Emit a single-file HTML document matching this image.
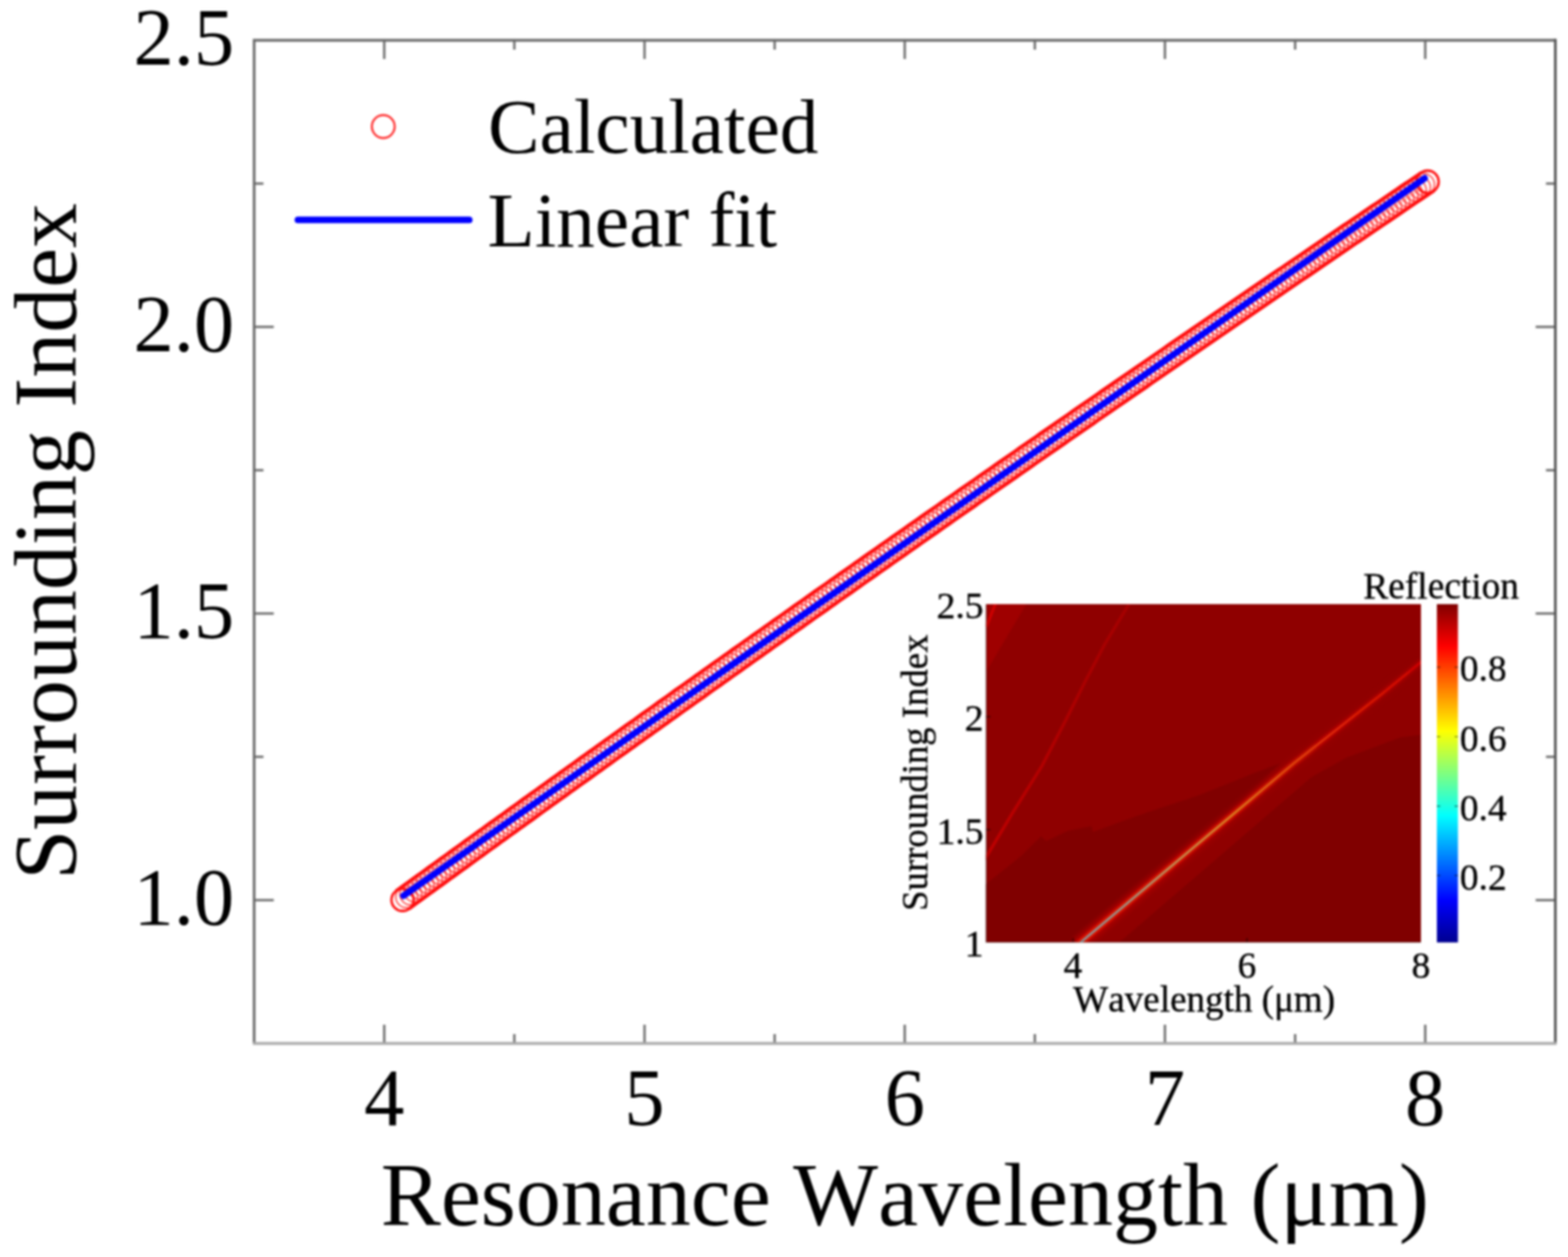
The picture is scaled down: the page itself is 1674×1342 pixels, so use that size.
<!DOCTYPE html><html><head><meta charset="utf-8"><style>html,body{margin:0;padding:0;background:#fff;}svg{display:block;filter:blur(0.9px);}text{font-family:"Liberation Serif","Times New Roman",serif;font-kerning:none;}</style></head><body>
<svg width="1674" height="1342" viewBox="0 0 1674 1342">
<defs>
<linearGradient id="jet" x1="0" y1="1" x2="0" y2="0"><stop offset="0" stop-color="#00008f"/><stop offset="0.125" stop-color="#0000ff"/><stop offset="0.375" stop-color="#00ffff"/><stop offset="0.625" stop-color="#ffff00"/><stop offset="0.875" stop-color="#ff0000"/><stop offset="1" stop-color="#800000"/></linearGradient>
<filter id="b1" x="-20%" y="-20%" width="140%" height="140%"><feGaussianBlur stdDeviation="0.7"/></filter>
<filter id="b2" x="-20%" y="-20%" width="140%" height="140%"><feGaussianBlur stdDeviation="2.2"/></filter>
<filter id="b3" x="-20%" y="-20%" width="140%" height="140%"><feGaussianBlur stdDeviation="1.0"/></filter>
</defs>
<rect x="0" y="0" width="1674" height="1342" fill="#fff"/>
<g fill="none" stroke="#ff2020" stroke-width="1.4" stroke-opacity="0.9"><circle cx="429.80" cy="960.73" r="11.7"/><circle cx="434.18" cy="957.55" r="11.7"/><circle cx="438.55" cy="954.37" r="11.7"/><circle cx="442.93" cy="951.20" r="11.7"/><circle cx="447.31" cy="948.03" r="11.7"/><circle cx="451.69" cy="944.85" r="11.7"/><circle cx="456.06" cy="941.68" r="11.7"/><circle cx="460.44" cy="938.51" r="11.7"/><circle cx="464.82" cy="935.34" r="11.7"/><circle cx="469.19" cy="932.17" r="11.7"/><circle cx="473.57" cy="929.00" r="11.7"/><circle cx="477.95" cy="925.83" r="11.7"/><circle cx="482.33" cy="922.67" r="11.7"/><circle cx="486.70" cy="919.50" r="11.7"/><circle cx="491.08" cy="916.33" r="11.7"/><circle cx="495.46" cy="913.17" r="11.7"/><circle cx="499.84" cy="910.01" r="11.7"/><circle cx="504.21" cy="906.84" r="11.7"/><circle cx="508.59" cy="903.68" r="11.7"/><circle cx="512.97" cy="900.52" r="11.7"/><circle cx="517.34" cy="897.36" r="11.7"/><circle cx="521.72" cy="894.20" r="11.7"/><circle cx="526.10" cy="891.05" r="11.7"/><circle cx="530.48" cy="887.89" r="11.7"/><circle cx="534.85" cy="884.73" r="11.7"/><circle cx="539.23" cy="881.58" r="11.7"/><circle cx="543.61" cy="878.42" r="11.7"/><circle cx="547.98" cy="875.27" r="11.7"/><circle cx="552.36" cy="872.12" r="11.7"/><circle cx="556.74" cy="868.96" r="11.7"/><circle cx="561.12" cy="865.81" r="11.7"/><circle cx="565.49" cy="862.66" r="11.7"/><circle cx="569.87" cy="859.51" r="11.7"/><circle cx="574.25" cy="856.36" r="11.7"/><circle cx="578.62" cy="853.22" r="11.7"/><circle cx="583.00" cy="850.07" r="11.7"/><circle cx="587.38" cy="846.92" r="11.7"/><circle cx="591.76" cy="843.78" r="11.7"/><circle cx="596.13" cy="840.64" r="11.7"/><circle cx="600.51" cy="837.49" r="11.7"/><circle cx="604.89" cy="834.35" r="11.7"/><circle cx="609.27" cy="831.21" r="11.7"/><circle cx="613.64" cy="828.07" r="11.7"/><circle cx="618.02" cy="824.93" r="11.7"/><circle cx="622.40" cy="821.79" r="11.7"/><circle cx="626.77" cy="818.65" r="11.7"/><circle cx="631.15" cy="815.52" r="11.7"/><circle cx="635.53" cy="812.38" r="11.7"/><circle cx="639.91" cy="809.24" r="11.7"/><circle cx="644.28" cy="806.11" r="11.7"/><circle cx="648.66" cy="802.98" r="11.7"/><circle cx="653.04" cy="799.84" r="11.7"/><circle cx="657.41" cy="796.71" r="11.7"/><circle cx="661.79" cy="793.58" r="11.7"/><circle cx="666.17" cy="790.45" r="11.7"/><circle cx="670.55" cy="787.32" r="11.7"/><circle cx="674.92" cy="784.20" r="11.7"/><circle cx="679.30" cy="781.07" r="11.7"/><circle cx="683.68" cy="777.94" r="11.7"/><circle cx="688.05" cy="774.82" r="11.7"/><circle cx="692.43" cy="771.69" r="11.7"/><circle cx="696.81" cy="768.57" r="11.7"/><circle cx="701.19" cy="765.45" r="11.7"/><circle cx="705.56" cy="762.32" r="11.7"/><circle cx="709.94" cy="759.20" r="11.7"/><circle cx="714.32" cy="756.08" r="11.7"/><circle cx="718.70" cy="752.96" r="11.7"/><circle cx="723.07" cy="749.85" r="11.7"/><circle cx="727.45" cy="746.73" r="11.7"/><circle cx="731.83" cy="743.61" r="11.7"/><circle cx="736.20" cy="740.50" r="11.7"/><circle cx="740.58" cy="737.38" r="11.7"/><circle cx="744.96" cy="734.27" r="11.7"/><circle cx="749.34" cy="731.15" r="11.7"/><circle cx="753.71" cy="728.04" r="11.7"/><circle cx="758.09" cy="724.93" r="11.7"/><circle cx="762.47" cy="721.82" r="11.7"/><circle cx="766.84" cy="718.71" r="11.7"/><circle cx="771.22" cy="715.60" r="11.7"/><circle cx="775.60" cy="712.49" r="11.7"/><circle cx="779.98" cy="709.39" r="11.7"/><circle cx="784.35" cy="706.28" r="11.7"/><circle cx="788.73" cy="703.18" r="11.7"/><circle cx="793.11" cy="700.07" r="11.7"/><circle cx="797.48" cy="696.97" r="11.7"/><circle cx="801.86" cy="693.87" r="11.7"/><circle cx="806.24" cy="690.76" r="11.7"/><circle cx="810.62" cy="687.66" r="11.7"/><circle cx="814.99" cy="684.56" r="11.7"/><circle cx="819.37" cy="681.46" r="11.7"/><circle cx="823.75" cy="678.37" r="11.7"/><circle cx="828.13" cy="675.27" r="11.7"/><circle cx="832.50" cy="672.17" r="11.7"/><circle cx="836.88" cy="669.08" r="11.7"/><circle cx="841.26" cy="665.98" r="11.7"/><circle cx="845.63" cy="662.89" r="11.7"/><circle cx="850.01" cy="659.80" r="11.7"/><circle cx="854.39" cy="656.71" r="11.7"/><circle cx="858.77" cy="653.61" r="11.7"/><circle cx="863.14" cy="650.52" r="11.7"/><circle cx="867.52" cy="647.44" r="11.7"/><circle cx="871.90" cy="644.35" r="11.7"/><circle cx="876.27" cy="641.26" r="11.7"/><circle cx="880.65" cy="638.17" r="11.7"/><circle cx="885.03" cy="635.09" r="11.7"/><circle cx="889.41" cy="632.00" r="11.7"/><circle cx="893.78" cy="628.92" r="11.7"/><circle cx="898.16" cy="625.84" r="11.7"/><circle cx="902.54" cy="622.75" r="11.7"/><circle cx="906.91" cy="619.67" r="11.7"/><circle cx="911.29" cy="616.59" r="11.7"/><circle cx="915.67" cy="613.51" r="11.7"/><circle cx="920.05" cy="610.43" r="11.7"/><circle cx="924.42" cy="607.36" r="11.7"/><circle cx="928.80" cy="604.28" r="11.7"/><circle cx="933.18" cy="601.20" r="11.7"/><circle cx="937.56" cy="598.13" r="11.7"/><circle cx="941.93" cy="595.05" r="11.7"/><circle cx="946.31" cy="591.98" r="11.7"/><circle cx="950.69" cy="588.91" r="11.7"/><circle cx="955.06" cy="585.84" r="11.7"/><circle cx="959.44" cy="582.77" r="11.7"/><circle cx="963.82" cy="579.70" r="11.7"/><circle cx="968.20" cy="576.63" r="11.7"/><circle cx="972.57" cy="573.56" r="11.7"/><circle cx="976.95" cy="570.49" r="11.7"/><circle cx="981.33" cy="567.43" r="11.7"/><circle cx="985.70" cy="564.36" r="11.7"/><circle cx="990.08" cy="561.30" r="11.7"/><circle cx="994.46" cy="558.23" r="11.7"/><circle cx="998.84" cy="555.17" r="11.7"/><circle cx="1003.21" cy="552.11" r="11.7"/><circle cx="1007.59" cy="549.05" r="11.7"/><circle cx="1011.97" cy="545.99" r="11.7"/><circle cx="1016.34" cy="542.93" r="11.7"/><circle cx="1020.72" cy="539.87" r="11.7"/><circle cx="1025.10" cy="536.81" r="11.7"/><circle cx="1029.48" cy="533.76" r="11.7"/><circle cx="1033.85" cy="530.70" r="11.7"/><circle cx="1038.23" cy="527.65" r="11.7"/><circle cx="1042.61" cy="524.59" r="11.7"/><circle cx="1046.99" cy="521.54" r="11.7"/><circle cx="1051.36" cy="518.49" r="11.7"/><circle cx="1055.74" cy="515.43" r="11.7"/><circle cx="1060.12" cy="512.38" r="11.7"/><circle cx="1064.49" cy="509.34" r="11.7"/><circle cx="1068.87" cy="506.29" r="11.7"/><circle cx="1073.25" cy="503.24" r="11.7"/><circle cx="1077.63" cy="500.19" r="11.7"/><circle cx="1082.00" cy="497.15" r="11.7"/><circle cx="1086.38" cy="494.10" r="11.7"/><circle cx="1090.76" cy="491.06" r="11.7"/><circle cx="1095.13" cy="488.01" r="11.7"/><circle cx="1099.51" cy="484.97" r="11.7"/><circle cx="1103.89" cy="481.93" r="11.7"/><circle cx="1108.27" cy="478.89" r="11.7"/><circle cx="1112.64" cy="475.85" r="11.7"/><circle cx="1117.02" cy="472.81" r="11.7"/><circle cx="1121.40" cy="469.77" r="11.7"/><circle cx="1125.77" cy="466.74" r="11.7"/><circle cx="1130.15" cy="463.70" r="11.7"/><circle cx="1134.53" cy="460.66" r="11.7"/><circle cx="1138.91" cy="457.63" r="11.7"/><circle cx="1143.28" cy="454.60" r="11.7"/><circle cx="1147.66" cy="451.56" r="11.7"/><circle cx="1152.04" cy="448.53" r="11.7"/><circle cx="1156.42" cy="445.50" r="11.7"/><circle cx="1160.79" cy="442.47" r="11.7"/><circle cx="1165.17" cy="439.44" r="11.7"/><circle cx="1169.55" cy="436.41" r="11.7"/><circle cx="1173.92" cy="433.39" r="11.7"/><circle cx="1178.30" cy="430.36" r="11.7"/><circle cx="1182.68" cy="427.33" r="11.7"/><circle cx="1187.06" cy="424.31" r="11.7"/><circle cx="1191.43" cy="421.28" r="11.7"/><circle cx="1195.81" cy="418.26" r="11.7"/><circle cx="1200.19" cy="415.24" r="11.7"/><circle cx="1204.56" cy="412.22" r="11.7"/><circle cx="1208.94" cy="409.20" r="11.7"/><circle cx="1213.32" cy="406.18" r="11.7"/><circle cx="1217.70" cy="403.16" r="11.7"/><circle cx="1222.07" cy="400.14" r="11.7"/><circle cx="1226.45" cy="397.13" r="11.7"/><circle cx="1230.83" cy="394.11" r="11.7"/><circle cx="1235.20" cy="391.10" r="11.7"/><circle cx="1239.58" cy="388.08" r="11.7"/><circle cx="1243.96" cy="385.07" r="11.7"/><circle cx="1248.34" cy="382.06" r="11.7"/><circle cx="1252.71" cy="379.04" r="11.7"/><circle cx="1257.09" cy="376.03" r="11.7"/><circle cx="1261.47" cy="373.02" r="11.7"/><circle cx="1265.85" cy="370.01" r="11.7"/><circle cx="1270.22" cy="367.01" r="11.7"/><circle cx="1274.60" cy="364.00" r="11.7"/><circle cx="1278.98" cy="360.99" r="11.7"/><circle cx="1283.35" cy="357.99" r="11.7"/><circle cx="1287.73" cy="354.98" r="11.7"/><circle cx="1292.11" cy="351.98" r="11.7"/><circle cx="1296.49" cy="348.98" r="11.7"/><circle cx="1300.86" cy="345.98" r="11.7"/><circle cx="1305.24" cy="342.97" r="11.7"/><circle cx="1309.62" cy="339.97" r="11.7"/><circle cx="1313.99" cy="336.98" r="11.7"/><circle cx="1318.37" cy="333.98" r="11.7"/><circle cx="1322.75" cy="330.98" r="11.7"/><circle cx="1327.13" cy="327.98" r="11.7"/><circle cx="1331.50" cy="324.99" r="11.7"/><circle cx="1335.88" cy="321.99" r="11.7"/><circle cx="1340.26" cy="319.00" r="11.7"/><circle cx="1344.63" cy="316.01" r="11.7"/><circle cx="1349.01" cy="313.01" r="11.7"/><circle cx="1353.39" cy="310.02" r="11.7"/><circle cx="1357.77" cy="307.03" r="11.7"/><circle cx="1362.14" cy="304.04" r="11.7"/><circle cx="1366.52" cy="301.06" r="11.7"/><circle cx="1370.90" cy="298.07" r="11.7"/><circle cx="1375.28" cy="295.08" r="11.7"/><circle cx="1379.65" cy="292.10" r="11.7"/><circle cx="1384.03" cy="289.11" r="11.7"/><circle cx="1388.41" cy="286.13" r="11.7"/><circle cx="1392.78" cy="283.14" r="11.7"/><circle cx="1397.16" cy="280.16" r="11.7"/><circle cx="1401.54" cy="277.18" r="11.7"/><circle cx="1405.92" cy="274.20" r="11.7"/><circle cx="1410.29" cy="271.22" r="11.7"/><circle cx="1414.67" cy="268.24" r="11.7"/><circle cx="1419.05" cy="265.26" r="11.7"/><circle cx="1423.42" cy="262.28" r="11.7"/><circle cx="1427.80" cy="259.31" r="11.7"/><circle cx="1432.18" cy="256.33" r="11.7"/><circle cx="1436.56" cy="253.36" r="11.7"/><circle cx="1440.93" cy="250.39" r="11.7"/><circle cx="1445.31" cy="247.41" r="11.7"/><circle cx="1449.69" cy="244.44" r="11.7"/><circle cx="1454.06" cy="241.47" r="11.7"/><circle cx="1458.44" cy="238.50" r="11.7"/><circle cx="1462.82" cy="235.53" r="11.7"/><circle cx="1467.20" cy="232.56" r="11.7"/><circle cx="1471.57" cy="229.60" r="11.7"/><circle cx="1475.95" cy="226.63" r="11.7"/><circle cx="1480.33" cy="223.66" r="11.7"/><circle cx="1484.71" cy="220.70" r="11.7"/><circle cx="1489.08" cy="217.74" r="11.7"/><circle cx="1493.46" cy="214.77" r="11.7"/><circle cx="1497.84" cy="211.81" r="11.7"/><circle cx="1502.21" cy="208.85" r="11.7"/><circle cx="1506.59" cy="205.89" r="11.7"/><circle cx="1510.97" cy="202.93" r="11.7"/><circle cx="1515.35" cy="199.97" r="11.7"/><circle cx="1519.72" cy="197.01" r="11.7"/><circle cx="1524.10" cy="194.06" r="11.7"/></g>
<path d="M436.8,970.4 L441.2,967.2 L445.5,964.0 L449.9,960.8 L454.3,957.7 L458.7,954.5 L463.0,951.3 L467.4,948.1 L471.8,945.0 L476.2,941.8 L480.5,938.6 L484.9,935.5 L489.3,932.3 L493.7,929.1 L498.1,926.0 L502.4,922.8 L506.8,919.7 L511.2,916.5 L515.6,913.3 L519.9,910.2 L524.3,907.0 L528.7,903.9 L533.1,900.7 L537.4,897.5 L541.8,894.4 L546.2,891.2 L550.6,888.1 L554.9,884.9 L559.3,881.8 L563.7,878.6 L568.1,875.5 L572.4,872.3 L576.8,869.2 L581.2,866.0 L585.6,862.9 L589.9,859.7 L594.3,856.6 L598.7,853.4 L603.1,850.3 L607.5,847.2 L611.8,844.0 L616.2,840.9 L620.6,837.7 L625.0,834.6 L629.3,831.5 L633.7,828.3 L638.1,825.2 L642.5,822.1 L646.8,818.9 L651.2,815.8 L655.6,812.7 L660.0,809.5 L664.3,806.4 L668.7,803.3 L673.1,800.1 L677.5,797.0 L681.8,793.9 L686.2,790.8 L690.6,787.6 L695.0,784.5 L699.3,781.4 L703.7,778.3 L708.1,775.1 L712.5,772.0 L716.8,768.9 L721.2,765.8 L725.6,762.7 L730.0,759.5 L734.4,756.4 L738.7,753.3 L743.1,750.2 L747.5,747.1 L751.9,744.0 L756.2,740.9 L760.6,737.7 L765.0,734.6 L769.4,731.5 L773.7,728.4 L778.1,725.3 L782.5,722.2 L786.9,719.1 L791.2,716.0 L795.6,712.9 L800.0,709.8 L804.4,706.7 L808.7,703.6 L813.1,700.5 L817.5,697.4 L821.9,694.3 L826.2,691.2 L830.6,688.1 L835.0,685.0 L839.4,681.9 L843.7,678.8 L848.1,675.7 L852.5,672.6 L856.9,669.5 L861.3,666.4 L865.6,663.3 L870.0,660.2 L874.4,657.2 L878.8,654.1 L883.1,651.0 L887.5,647.9 L891.9,644.8 L896.3,641.7 L900.6,638.6 L905.0,635.6 L909.4,632.5 L913.8,629.4 L918.1,626.3 L922.5,623.2 L926.9,620.2 L931.3,617.1 L935.6,614.0 L940.0,610.9 L944.4,607.9 L948.8,604.8 L953.1,601.7 L957.5,598.6 L961.9,595.6 L966.3,592.5 L970.7,589.4 L975.0,586.4 L979.4,583.3 L983.8,580.2 L988.2,577.2 L992.5,574.1 L996.9,571.0 L1001.3,568.0 L1005.7,564.9 L1010.0,561.9 L1014.4,558.8 L1018.8,555.7 L1023.2,552.7 L1027.5,549.6 L1031.9,546.6 L1036.3,543.5 L1040.7,540.5 L1045.0,537.4 L1049.4,534.4 L1053.8,531.3 L1058.2,528.2 L1062.5,525.2 L1066.9,522.1 L1071.3,519.1 L1075.7,516.1 L1080.0,513.0 L1084.4,510.0 L1088.8,506.9 L1093.2,503.9 L1097.6,500.8 L1101.9,497.8 L1106.3,494.7 L1110.7,491.7 L1115.1,488.7 L1119.4,485.6 L1123.8,482.6 L1128.2,479.5 L1132.6,476.5 L1136.9,473.5 L1141.3,470.4 L1145.7,467.4 L1150.1,464.4 L1154.4,461.3 L1158.8,458.3 L1163.2,455.3 L1167.6,452.3 L1171.9,449.2 L1176.3,446.2 L1180.7,443.2 L1185.1,440.1 L1189.4,437.1 L1193.8,434.1 L1198.2,431.1 L1202.6,428.1 L1206.9,425.0 L1211.3,422.0 L1215.7,419.0 L1220.1,416.0 L1224.5,413.0 L1228.8,409.9 L1233.2,406.9 L1237.6,403.9 L1242.0,400.9 L1246.3,397.9 L1250.7,394.9 L1255.1,391.9 L1259.5,388.8 L1263.8,385.8 L1268.2,382.8 L1272.6,379.8 L1277.0,376.8 L1281.3,373.8 L1285.7,370.8 L1290.1,367.8 L1294.5,364.8 L1298.8,361.8 L1303.2,358.8 L1307.6,355.8 L1312.0,352.8 L1316.3,349.8 L1320.7,346.8 L1325.1,343.8 L1329.5,340.8 L1333.8,337.8 L1338.2,334.8 L1342.6,331.8 L1347.0,328.8 L1351.4,325.8 L1355.7,322.8 L1360.1,319.8 L1364.5,316.9 L1368.9,313.9 L1373.2,310.9 L1377.6,307.9 L1382.0,304.9 L1386.4,301.9 L1390.7,298.9 L1395.1,296.0 L1399.5,293.0 L1403.9,290.0 L1408.2,287.0 L1412.6,284.0 L1417.0,281.1 L1421.4,278.1 L1425.7,275.1 L1430.1,272.1 L1434.5,269.2 L1438.9,266.2 L1443.2,263.2 L1447.6,260.2 L1452.0,257.3 L1456.4,254.3 L1460.7,251.3 L1465.1,248.3 L1469.5,245.4 L1473.9,242.4 L1478.3,239.4 L1482.6,236.5 L1487.0,233.5 L1491.4,230.6 L1495.8,227.6 L1500.1,224.6 L1504.5,221.7 L1508.9,218.7 L1513.3,215.7 L1517.6,212.8 L1522.0,209.8 L1526.4,206.9 L1530.8,203.9" fill="none" stroke="#ff0a0a" stroke-width="3.4"/>
<path d="M422.8,951.1 L427.2,947.9 L431.6,944.7 L435.9,941.6 L440.3,938.4 L444.7,935.2 L449.1,932.0 L453.5,928.9 L457.8,925.7 L462.2,922.5 L466.6,919.4 L471.0,916.2 L475.4,913.0 L479.7,909.9 L484.1,906.7 L488.5,903.5 L492.9,900.4 L497.2,897.2 L501.6,894.0 L506.0,890.9 L510.4,887.7 L514.8,884.6 L519.1,881.4 L523.5,878.2 L527.9,875.1 L532.3,871.9 L536.7,868.8 L541.0,865.6 L545.4,862.5 L549.8,859.3 L554.2,856.2 L558.5,853.0 L562.9,849.9 L567.3,846.7 L571.7,843.6 L576.1,840.4 L580.4,837.3 L584.8,834.1 L589.2,831.0 L593.6,827.8 L597.9,824.7 L602.3,821.5 L606.7,818.4 L611.1,815.3 L615.5,812.1 L619.8,809.0 L624.2,805.8 L628.6,802.7 L633.0,799.6 L637.4,796.4 L641.7,793.3 L646.1,790.2 L650.5,787.0 L654.9,783.9 L659.2,780.8 L663.6,777.6 L668.0,774.5 L672.4,771.4 L676.8,768.3 L681.1,765.1 L685.5,762.0 L689.9,758.9 L694.3,755.8 L698.7,752.6 L703.0,749.5 L707.4,746.4 L711.8,743.3 L716.2,740.2 L720.5,737.0 L724.9,733.9 L729.3,730.8 L733.7,727.7 L738.1,724.6 L742.4,721.5 L746.8,718.3 L751.2,715.2 L755.6,712.1 L760.0,709.0 L764.3,705.9 L768.7,702.8 L773.1,699.7 L777.5,696.6 L781.8,693.5 L786.2,690.4 L790.6,687.3 L795.0,684.2 L799.4,681.1 L803.7,678.0 L808.1,674.9 L812.5,671.8 L816.9,668.7 L821.3,665.6 L825.6,662.5 L830.0,659.4 L834.4,656.3 L838.8,653.2 L843.1,650.1 L847.5,647.0 L851.9,643.9 L856.3,640.8 L860.7,637.7 L865.0,634.6 L869.4,631.5 L873.8,628.4 L878.2,625.4 L882.6,622.3 L886.9,619.2 L891.3,616.1 L895.7,613.0 L900.1,609.9 L904.4,606.9 L908.8,603.8 L913.2,600.7 L917.6,597.6 L922.0,594.5 L926.3,591.5 L930.7,588.4 L935.1,585.3 L939.5,582.2 L943.9,579.2 L948.2,576.1 L952.6,573.0 L957.0,570.0 L961.4,566.9 L965.7,563.8 L970.1,560.7 L974.5,557.7 L978.9,554.6 L983.3,551.5 L987.6,548.5 L992.0,545.4 L996.4,542.4 L1000.8,539.3 L1005.2,536.2 L1009.5,533.2 L1013.9,530.1 L1018.3,527.1 L1022.7,524.0 L1027.0,520.9 L1031.4,517.9 L1035.8,514.8 L1040.2,511.8 L1044.6,508.7 L1048.9,505.7 L1053.3,502.6 L1057.7,499.6 L1062.1,496.5 L1066.4,493.5 L1070.8,490.4 L1075.2,487.4 L1079.6,484.3 L1084.0,481.3 L1088.3,478.2 L1092.7,475.2 L1097.1,472.2 L1101.5,469.1 L1105.9,466.1 L1110.2,463.0 L1114.6,460.0 L1119.0,457.0 L1123.4,453.9 L1127.7,450.9 L1132.1,447.8 L1136.5,444.8 L1140.9,441.8 L1145.3,438.7 L1149.6,435.7 L1154.0,432.7 L1158.4,429.7 L1162.8,426.6 L1167.2,423.6 L1171.5,420.6 L1175.9,417.5 L1180.3,414.5 L1184.7,411.5 L1189.0,408.5 L1193.4,405.4 L1197.8,402.4 L1202.2,399.4 L1206.6,396.4 L1210.9,393.4 L1215.3,390.3 L1219.7,387.3 L1224.1,384.3 L1228.5,381.3 L1232.8,378.3 L1237.2,375.3 L1241.6,372.3 L1246.0,369.2 L1250.3,366.2 L1254.7,363.2 L1259.1,360.2 L1263.5,357.2 L1267.9,354.2 L1272.2,351.2 L1276.6,348.2 L1281.0,345.2 L1285.4,342.2 L1289.8,339.2 L1294.1,336.2 L1298.5,333.2 L1302.9,330.2 L1307.3,327.2 L1311.6,324.2 L1316.0,321.2 L1320.4,318.2 L1324.8,315.2 L1329.2,312.2 L1333.5,309.2 L1337.9,306.2 L1342.3,303.2 L1346.7,300.2 L1351.1,297.2 L1355.4,294.2 L1359.8,291.2 L1364.2,288.2 L1368.6,285.3 L1372.9,282.3 L1377.3,279.3 L1381.7,276.3 L1386.1,273.3 L1390.5,270.3 L1394.8,267.3 L1399.2,264.4 L1403.6,261.4 L1408.0,258.4 L1412.4,255.4 L1416.7,252.4 L1421.1,249.5 L1425.5,246.5 L1429.9,243.5 L1434.2,240.5 L1438.6,237.6 L1443.0,234.6 L1447.4,231.6 L1451.8,228.7 L1456.1,225.7 L1460.5,222.7 L1464.9,219.7 L1469.3,216.8 L1473.7,213.8 L1478.0,210.8 L1482.4,207.9 L1486.8,204.9 L1491.2,202.0 L1495.5,199.0 L1499.9,196.0 L1504.3,193.1 L1508.7,190.1 L1513.1,187.2 L1517.4,184.2" fill="none" stroke="#ff0a0a" stroke-width="3.4"/>
<circle cx="429.80" cy="960.73" r="11.9" fill="none" stroke="#ff1010" stroke-width="2.6"/>
<circle cx="1524.10" cy="194.06" r="11.9" fill="none" stroke="#ff1010" stroke-width="2.6"/>
<line x1="430.7" y1="956.3" x2="1520.9" y2="190.3" stroke="#0000ff" stroke-width="7" stroke-linecap="round"/>
<path d="M410.2,1114.0V1094.0M410.2,43.0V63.0M688.1,1114.0V1094.0M688.1,43.0V63.0M965.9,1114.0V1094.0M965.9,43.0V63.0M1243.7,1114.0V1094.0M1243.7,43.0V63.0M1521.6,1114.0V1094.0M1521.6,43.0V63.0M549.1,1114.0V1104.0M549.1,43.0V53.0M827.0,1114.0V1104.0M827.0,43.0V53.0M1104.8,1114.0V1104.0M1104.8,43.0V53.0M1382.7,1114.0V1104.0M1382.7,43.0V53.0M271.3,961.0H292.3M1660.5,961.0H1639.5M271.3,655.0H292.3M1660.5,655.0H1639.5M271.3,349.0H292.3M1660.5,349.0H1639.5M271.3,808.0H281.3M1660.5,808.0H1650.5M271.3,502.0H281.3M1660.5,502.0H1650.5M271.3,196.0H281.3M1660.5,196.0H1650.5" stroke="#6e6e6e" stroke-width="2.5" fill="none"/>
<path d="M271.3,1114.0V43.0H1660.5" fill="none" stroke="#6a6a6a" stroke-width="2.8"/>
<path d="M1660.5,41.6V1114.0" fill="none" stroke="#555555" stroke-width="2.8"/>
<path d="M269.9,1114.0H1661.9" fill="none" stroke="#a8a8a8" stroke-width="3.2"/>
<g font-size="86" fill="#000"><text x="410.2" y="1200.5" text-anchor="middle">4</text><text x="688.1" y="1200.5" text-anchor="middle">5</text><text x="965.9" y="1200.5" text-anchor="middle">6</text><text x="1243.7" y="1200.5" text-anchor="middle">7</text><text x="1521.6" y="1200.5" text-anchor="middle">8</text><text x="250" y="69.0" text-anchor="end">2.5</text><text x="250" y="375.0" text-anchor="end">2.0</text><text x="250" y="681.0" text-anchor="end">1.5</text><text x="250" y="987.0" text-anchor="end">1.0</text></g>
<text x="966" y="1308.4" font-size="96.1" text-anchor="middle" fill="#000">Resonance Wavelength (μm)</text>
<text transform="translate(80.5,578) rotate(-90)" x="0" y="0" font-size="96" text-anchor="middle" fill="#000">Surrounding Index</text>
<circle cx="409.2" cy="135.1" r="12.2" fill="none" stroke="#ff2828" stroke-width="2.2"/>
<line x1="318" y1="234.8" x2="501" y2="234.8" stroke="#0000ff" stroke-width="7" stroke-linecap="round"/>
<text x="521" y="162.5" font-size="82.5" fill="#000">Calculated</text>
<text x="520.5" y="262.8" font-size="82.5" fill="#000">Linear fit</text>
<clipPath id="hmclip"><rect x="1052.8" y="645.0" width="464.2" height="361.0"/></clipPath>
<g clip-path="url(#hmclip)">
<rect x="1052.8" y="645.0" width="464.2" height="361.0" fill="#8f0000"/>
<polygon points="1052.8,645.0 1095.7,645.0 1052.8,717" fill="#9f0000"/>
<polygon points="1051.8,944.5 1090.0,914.0 1111.5,892.7 1116.9,898.0 1140.0,887.0 1165.2,882.0 1167.0,888.2 1200.0,876.0 1236.7,863.2 1280.0,849.0 1337.3,826.0 1368.0,814.5 1323.7,855.4 1151.6,1000.0 1146.0,1005.0 1051.8,1008.0" fill="#800000"/>
<polygon points="1518.0,784.4 1495.0,787.3 1437.7,808.8 1400.0,829.7 1192.8,1008.0 1518.0,1008.0" fill="#800000"/>
<linearGradient id="fl" gradientUnits="userSpaceOnUse" x1="1052" y1="917" x2="1206" y2="644"><stop offset="0" stop-color="#c00000"/><stop offset="0.5" stop-color="#b00000"/><stop offset="1" stop-color="#a60000"/></linearGradient>
<path d="M1050.8,918.5 L1056.3,909.1 L1081.3,867.4 L1112.6,817.3 L1137.6,769.3 L1158.5,727.6 L1179.3,688.0 L1204.4,646.3 L1206.0,643.0" fill="none" stroke="url(#fl)" stroke-width="3.2" stroke-linejoin="round" filter="url(#b1)"/>
<line x1="1053" y1="669" x2="1063" y2="644.0" stroke="#d00000" stroke-width="3" filter="url(#b1)"/>
<linearGradient id="rg" gradientUnits="userSpaceOnUse" x1="1150.0" y1="1009.5" x2="1520.0" y2="704.5"><stop offset="0" stop-color="#7f98a0"/><stop offset="0.12" stop-color="#909890"/><stop offset="0.3" stop-color="#c09050"/><stop offset="0.45" stop-color="#d88020"/><stop offset="0.6" stop-color="#e05010"/><stop offset="0.75" stop-color="#e02808"/><stop offset="1" stop-color="#d00000"/></linearGradient>
<linearGradient id="rgl" gradientUnits="userSpaceOnUse" x1="1150.0" y1="1009.5" x2="1520.0" y2="704.5"><stop offset="0" stop-color="#e81800" stop-opacity="1"/><stop offset="0.5" stop-color="#d81000" stop-opacity="0.85"/><stop offset="0.8" stop-color="#cc0800" stop-opacity="0.5"/><stop offset="1" stop-color="#c80000" stop-opacity="0.3"/></linearGradient>
<linearGradient id="rgw" gradientUnits="userSpaceOnUse" x1="1150.0" y1="1009.5" x2="1520.0" y2="704.5"><stop offset="0" stop-color="#b00800" stop-opacity="0.75"/><stop offset="0.5" stop-color="#a00000" stop-opacity="0.5"/><stop offset="0.8" stop-color="#a00000" stop-opacity="0.15"/><stop offset="1" stop-color="#a00000" stop-opacity="0"/></linearGradient>
<path d="M1150.0,1009.5 L1155.5,1004.6 L1327.6,860.0 L1381.3,814.9 L1476.4,740.0 L1520.0,704.5" fill="none" stroke="url(#rgw)" stroke-width="16" filter="url(#b2)"/>
<path d="M1150.0,1009.5 L1155.5,1004.6 L1327.6,860.0 L1381.3,814.9 L1476.4,740.0 L1520.0,704.5" fill="none" stroke="url(#rgl)" stroke-width="7" filter="url(#b3)"/>
<path d="M1150.0,1009.5 L1155.5,1004.6 L1327.6,860.0 L1381.3,814.9 L1476.4,740.0 L1520.0,704.5" fill="none" stroke="url(#rg)" stroke-width="2.4" filter="url(#b1)"/>
</g>
<path d="M1052.8,885.7h4.5M1052.8,765.3h4.5M1145.6,1006.0v-4.5M1331.3,1006.0v-4.5" stroke="#200000" stroke-opacity="0.7" stroke-width="1.4" fill="none"/>
<path d="M1052.8,645.0V1006.0H1517.0" stroke="#301010" stroke-opacity="0.45" stroke-width="1.2" fill="none"/>
<rect x="1534" y="645" width="22.5" height="361.2" fill="url(#jet)"/>
<path d="M1534,934.7h3.5M1556.5,934.7h-3.5M1534,860.6h3.5M1556.5,860.6h-3.5M1534,786.5h3.5M1556.5,786.5h-3.5M1534,712.4h3.5M1556.5,712.4h-3.5" stroke="#000" stroke-opacity="0.55" stroke-width="1.2" fill="none"/>
<g font-size="40" fill="#000" stroke="#000" stroke-width="0.35"><text x="1050" y="660.0" text-anchor="end">2.5</text><text x="1050" y="780.3" text-anchor="end">2</text><text x="1050" y="900.7" text-anchor="end">1.5</text><text x="1050" y="1021.0" text-anchor="end">1</text><text x="1145.6" y="1044" text-anchor="middle">4</text><text x="1331.3" y="1044" text-anchor="middle">6</text><text x="1517.0" y="1044" text-anchor="middle">8</text><text x="1558.5" y="727.4">0.8</text><text x="1558.5" y="801.5">0.6</text><text x="1558.5" y="875.6">0.4</text><text x="1558.5" y="949.7">0.2</text><text x="1285.6" y="1080.3" text-anchor="middle" font-size="39.6">Wavelength (μm)</text><text transform="translate(989.8,825) rotate(-90)" text-anchor="middle" font-size="39.2">Surrounding Index</text></g>
<text x="1455.5" y="638.6" font-size="39.9" fill="#000" stroke="#000" stroke-width="0.35">Reflection</text>
</svg></body></html>
